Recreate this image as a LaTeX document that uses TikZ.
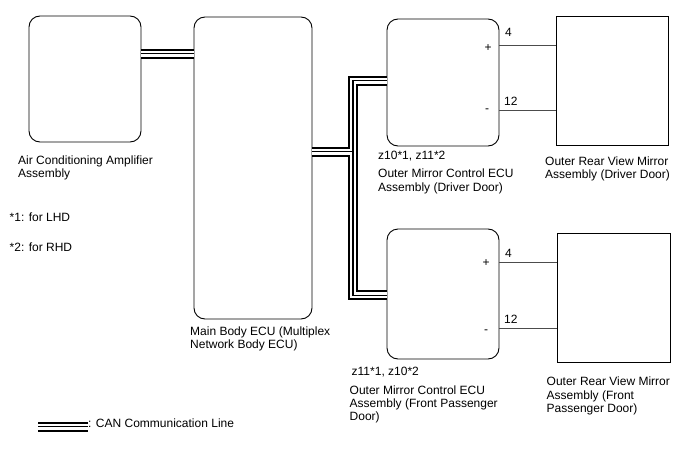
\documentclass[tikz,border=0pt]{standalone}
\usepackage{fontspec}
\setmainfont{Liberation Sans}

\tikzset{
  ecu/.style={draw,line width=0.9pt,rounded corners=11pt,inner sep=0pt},
  mirror/.style={draw,line width=1pt,inner sep=0pt},
  lbl/.style={anchor=base west,align=left,inner sep=0pt},
  pinlbl/.style={anchor=base west,inner sep=0pt},
  sign/.style={inner sep=0pt},
  wire/.style={line width=1pt,black!70},
  canout/.style={line width=10pt,black,line join=miter},
  canin/.style={line width=6pt,white,line join=miter},
  canmid/.style={line width=1.2pt,black,line join=miter}
}

% one pass of the CAN bus, drawn three times
\newcommand\canlines[1]{%
  \draw[#1] (ac.east |- busac) -- (main.west |- busac);
  \draw[#1] (main.east |- busmain) -- (jtop |- busmain);
  \draw[#1] (drv.west |- jtop) -- (jtop) -- (jbot) -- (psg.west |- jbot);
  \draw[#1] (lgstart) -- (lgstart -| legend.west);
}

\begin{document}
\begin{tikzpicture}[x=1pt,y=-1pt,font=\fontsize{12}{13.4}\selectfont]
\useasboundingbox (0,0) rectangle (688,463);

% Boxes
\node[ecu,minimum width=112,minimum height=126] (ac) at (85,79) {};
\node[ecu,minimum width=118,minimum height=302] (main) at (253,168) {};
\node[ecu,minimum width=112,minimum height=127] (drv) at (443,82.5) {};
\node[ecu,minimum width=112,minimum height=130] (psg) at (443,294) {};
\node[mirror,minimum width=112,minimum height=129] (mdrv) at (612,80.5) {};
\node[mirror,minimum width=113,minimum height=129] (mpsg) at (613.5,297.5) {};

% Labels (base = last line)
\node[lbl] (aclbl) at (18,177.4) {Air Conditioning Amplifier\\Assembly};
\node[lbl] (note1) at (9.5,221.5) {*1: for LHD};
\node[lbl] (note2) at (9.5,251.5) {*2: for RHD};
\node[lbl] (mainlbl) at (190,348.9) {Main Body ECU (Multiplex\\Network Body ECU)};
\node[lbl] (drvcode) at (378,159) {z10*1, z11*2};
\node[lbl] (drvlbl) at (378,191.1) {Outer Mirror Control ECU\\Assembly (Driver Door)};
\node[lbl] (mdrvlbl) at (545,178.4) {Outer Rear View Mirror\\Assembly (Driver Door)};
\node[lbl] (psgcode) at (351.5,375.7) {z11*1, z10*2};
\node[lbl] (psglbl) at (349.5,420.8) {Outer Mirror Control ECU\\Assembly (Front Passenger\\Door)};
\node[lbl] (mpsglbl) at (546.5,412.5) {Outer Rear View Mirror\\Assembly (Front\\Passenger Door)};
\node[lbl] (legend) at (88,427.7) {: CAN Communication Line};

% Wires to the mirrors
\coordinate (d4) at (0,45.7);
\coordinate (d12) at (0,110.7);
\coordinate (p4) at (0,262.7);
\coordinate (p12) at (0,328.3);
\draw[wire] (drv.east |- d4) -- (mdrv.west |- d4);
\draw[wire] (drv.east |- d12) -- (mdrv.west |- d12);
\draw[wire] (psg.east |- p4) -- (mpsg.west |- p4);
\draw[wire] (psg.east |- p12) -- (mpsg.west |- p12);

% Pin numbers and signs
\node[pinlbl] (d4n) at (505,36.7) {4};
\node[pinlbl] (d12n) at (504,105.7) {12};
\node[pinlbl] (p4n) at (505,257.7) {4};
\node[pinlbl] (p12n) at (504,323.3) {12};
\node[sign] (d4s) at (488,48) {+};
\node[sign] (d12s) at (487,111) {-};
\node[sign] (p4s) at (486,263) {+};
\node[sign] (p12s) at (486,332) {-};

% CAN bus
\coordinate (busac) at (0,53.5);
\coordinate (busmain) at (0,151.5);
\coordinate (jtop) at (353,80.5);
\coordinate (jbot) at (353,295.3);
\coordinate (lgstart) at (38,426.7);
\canlines{canout}
\canlines{canin}
\canlines{canmid}
\end{tikzpicture}
\end{document}
